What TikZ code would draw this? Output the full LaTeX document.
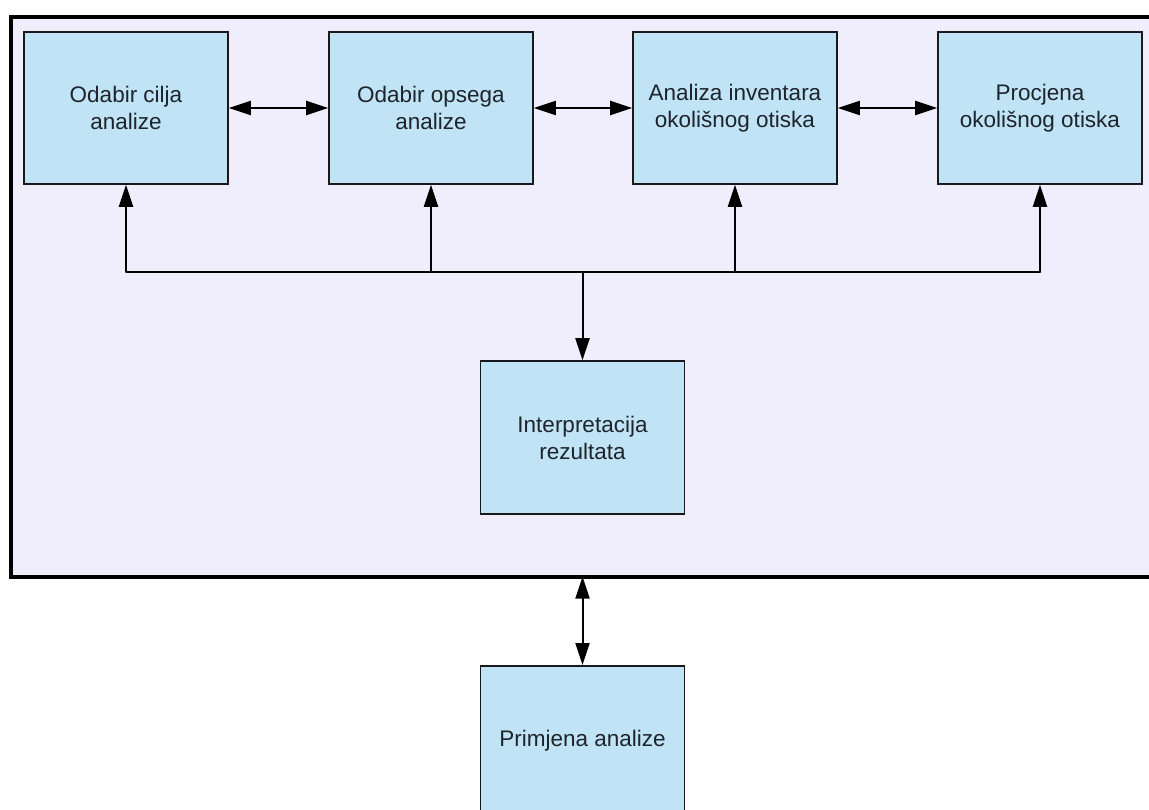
\documentclass[tikz,border=0pt]{standalone}
\usepackage{fontspec}
\setmainfont{Liberation Sans}
\usetikzlibrary{arrows.meta,positioning}
\definecolor{boxfill}{RGB}{192,227,245}
\definecolor{framefill}{RGB}{240,238,252}
\definecolor{txt}{RGB}{30,36,44}
\tikzset{
  stepbox/.style={draw=black!90,line width=1.6pt,fill=boxfill,minimum width=204pt,
    minimum height=152pt,inner sep=0pt,align=center,text=txt,
    font=\fontsize{22.5pt}{27pt}\selectfont},
  conn/.style={line width=2pt,draw=black},
  tip/.style={-{Triangle[length=22pt,width=14pt]}},
  dtip/.style={{Triangle[length=22pt,width=14pt]}-{Triangle[length=22pt,width=14pt]}}
}
\begin{document}
\begin{tikzpicture}[x=1pt,y=-1pt]
\useasboundingbox (0,0) rectangle (1149,809);
\clip (0,0) rectangle (1149,809);
\fill[white] (0,0) rectangle (1149,809);
% frame
\node[draw=black,line width=3.6pt,fill=framefill,minimum width=1160pt,minimum height=560pt,inner sep=0pt,anchor=north west] (frame) at (9.3,15) {};
% boxes
\node[stepbox] (b1) at (126,108) {Odabir cilja\\analize};
\node[stepbox] (b2) at (431,108) {Odabir opsega\\analize};
\node[stepbox] (b3) at (735,108) {Analiza inventara\\okolišnog otiska};
\node[stepbox] (b4) at (1040,108) {Procjena\\okolišnog otiska};
\node[stepbox,minimum height=153pt] (interp) at (582.5,437.5) {Interpretacija\\rezultata};
\node[stepbox,minimum height=150pt,anchor=north] (prim) at (582.5,665) {Primjena analize};
% horizontal arrows
\draw[conn,dtip] (b1.east) -- (b2.west);
\draw[conn,dtip] (b2.east) -- (b3.west);
\draw[conn,dtip] (b3.east) -- (b4.west);
% bus
\coordinate (bus) at (582.5,272);
\draw[conn,line cap=round] (b1.south |- bus) -- (b4.south |- bus);
\draw[conn,tip] (b1.south |- bus) -- (b1.south);
\draw[conn,tip] (b2.south |- bus) -- (b2.south);
\draw[conn,tip] (b3.south |- bus) -- (b3.south);
\draw[conn,tip] (b4.south |- bus) -- (b4.south);
\draw[conn,tip] (bus) -- (interp.north);
% to application
\draw[conn,dtip] ([yshift=2pt]prim.north |- frame.south) -- (prim.north);
\end{tikzpicture}
\end{document}
